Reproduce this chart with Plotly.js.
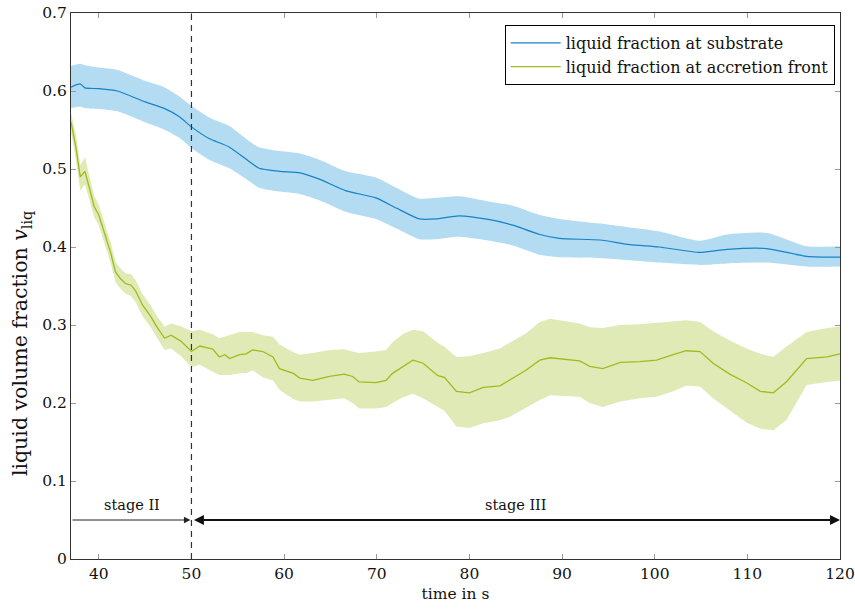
<!DOCTYPE html>
<html>
<head>
<meta charset="utf-8">
<script src="https://cdn.plot.ly/plotly-3.0.1.min.js"></script>
<style>html,body{margin:0;padding:0;background:#fff;}#chart{width:855px;height:609px;}</style>
</head>
<body>
<div id="chart"></div>
<script>
// ---- substrate (blue) ----
const subX = [37, 38, 38.5, 40, 42, 45, 47, 48.7, 50, 51.9, 54.1, 56.3, 57.3, 59.5, 61.7, 63.8, 66.7, 69.9, 72.1, 74.6, 76.4, 78.9, 82.2, 84.7, 87.6, 89.7, 94.1, 97.3, 100.5, 104.9, 107.8, 112.1, 116.4, 120];
const subMean = [0.605, 0.609, 0.604, 0.603, 0.600, 0.586, 0.578, 0.567, 0.554, 0.539, 0.528, 0.509, 0.501, 0.497, 0.495, 0.487, 0.472, 0.463, 0.450, 0.436, 0.436, 0.440, 0.435, 0.428, 0.416, 0.411, 0.409, 0.403, 0.400, 0.393, 0.397, 0.398, 0.388, 0.387];
const subLow = [0.578, 0.580, 0.578, 0.577, 0.574, 0.560, 0.551, 0.540, 0.527, 0.512, 0.501, 0.484, 0.476, 0.471, 0.468, 0.460, 0.445, 0.436, 0.424, 0.410, 0.410, 0.413, 0.408, 0.402, 0.390, 0.387, 0.386, 0.383, 0.380, 0.377, 0.379, 0.380, 0.375, 0.375];
const subHigh = [0.632, 0.635, 0.633, 0.630, 0.627, 0.613, 0.605, 0.593, 0.581, 0.566, 0.555, 0.535, 0.528, 0.523, 0.520, 0.512, 0.497, 0.489, 0.476, 0.462, 0.463, 0.465, 0.458, 0.453, 0.441, 0.436, 0.430, 0.425, 0.420, 0.408, 0.416, 0.418, 0.401, 0.401];

// ---- accretion front (green) ----
const frontX = [37.0, 37.5, 38.0, 38.5, 39.0, 39.5, 40.0, 40.6, 41.3, 41.8, 42.3, 42.9, 43.5, 44.0, 44.7, 45.6, 46.3, 47.1, 47.8, 48.9, 50.0, 50.9, 52.3, 53.0, 53.6, 54.1, 55.2, 55.9, 56.6, 57.7, 58.8, 59.5, 61.0, 61.7, 63.1, 64.9, 66.5, 67.4, 68.1, 69.9, 71.0, 71.7, 72.8, 73.9, 75.0, 76.6, 77.3, 78.6, 80.0, 81.5, 83.3, 84.3, 86.1, 87.6, 88.7, 91.9, 93.0, 94.4, 96.3, 98.4, 100.2, 102.0, 103.4, 104.9, 106.3, 108.1, 109.9, 111.4, 112.8, 114.2, 116.4, 118.6, 120.0];
const frontMean = [0.560, 0.530, 0.490, 0.497, 0.475, 0.452, 0.441, 0.418, 0.392, 0.368, 0.360, 0.353, 0.351, 0.343, 0.326, 0.311, 0.297, 0.283, 0.287, 0.279, 0.266, 0.273, 0.269, 0.259, 0.262, 0.257, 0.262, 0.263, 0.268, 0.266, 0.259, 0.244, 0.238, 0.232, 0.229, 0.234, 0.237, 0.234, 0.227, 0.226, 0.229, 0.238, 0.247, 0.255, 0.251, 0.235, 0.233, 0.215, 0.213, 0.220, 0.222, 0.229, 0.242, 0.255, 0.258, 0.254, 0.247, 0.244, 0.252, 0.253, 0.255, 0.262, 0.267, 0.266, 0.251, 0.237, 0.226, 0.215, 0.213, 0.227, 0.257, 0.259, 0.263];
const frontLow = [0.547, 0.514, 0.472, 0.480, 0.460, 0.438, 0.428, 0.405, 0.379, 0.355, 0.347, 0.340, 0.337, 0.329, 0.312, 0.297, 0.283, 0.268, 0.270, 0.260, 0.246, 0.249, 0.240, 0.236, 0.236, 0.236, 0.238, 0.238, 0.242, 0.233, 0.229, 0.217, 0.205, 0.202, 0.202, 0.204, 0.206, 0.200, 0.193, 0.193, 0.195, 0.200, 0.207, 0.212, 0.206, 0.195, 0.190, 0.170, 0.168, 0.174, 0.178, 0.182, 0.194, 0.204, 0.210, 0.208, 0.200, 0.195, 0.202, 0.206, 0.208, 0.215, 0.222, 0.221, 0.206, 0.190, 0.175, 0.167, 0.165, 0.178, 0.223, 0.227, 0.229];
const frontHigh = [0.572, 0.546, 0.505, 0.515, 0.490, 0.466, 0.454, 0.431, 0.405, 0.381, 0.373, 0.366, 0.365, 0.357, 0.340, 0.325, 0.311, 0.298, 0.302, 0.298, 0.292, 0.294, 0.288, 0.283, 0.285, 0.287, 0.291, 0.291, 0.291, 0.287, 0.285, 0.275, 0.265, 0.262, 0.264, 0.268, 0.269, 0.266, 0.264, 0.266, 0.268, 0.278, 0.288, 0.294, 0.292, 0.277, 0.272, 0.259, 0.260, 0.264, 0.270, 0.277, 0.289, 0.304, 0.308, 0.302, 0.297, 0.296, 0.300, 0.301, 0.303, 0.305, 0.306, 0.304, 0.292, 0.280, 0.270, 0.263, 0.259, 0.272, 0.291, 0.296, 0.298];

const seriesNames = ['liquid fraction at substrate', 'liquid fraction at accretion front'];
const xTicks = [40, 50, 60, 70, 80, 90, 100, 110, 120];
const yTicks = [0, 0.1, 0.2, 0.3, 0.4, 0.5, 0.6, 0.7];
const yTickText = ['0', '0.1', '0.2', '0.3', '0.4', '0.5', '0.6', '0.7'];
const xTitle = 'time in s';
const yTitle = 'liquid volume fraction <i>v</i><sub>liq</sub>';
const stageBoundary = 50;
const stageArrowY = 0.05;
const stageLabelY = 0.069;
const stageIILabel = 'stage II';
const stageIIILabel = 'stage III';

const FONT = 'DejaVu Serif, Liberation Serif, serif';
const blueLine = '#1683c9', blueBand = '#b3dbf1';
const greenLine = '#9dbd1c', greenBand = '#dfeab6';

const traces = [
  {x: subX, y: subLow, mode: 'lines', line: {width: 0, color: blueBand, shape: 'spline', smoothing: 0.6}, showlegend: false, hoverinfo: 'skip'},
  {x: subX, y: subHigh, mode: 'lines', fill: 'tonexty', fillcolor: blueBand, line: {width: 0, color: blueBand, shape: 'spline', smoothing: 0.6}, showlegend: false, hoverinfo: 'skip'},
  {x: frontX, y: frontLow, mode: 'lines', line: {width: 0, color: greenBand}, showlegend: false, hoverinfo: 'skip'},
  {x: frontX, y: frontHigh, mode: 'lines', fill: 'tonexty', fillcolor: greenBand, line: {width: 0, color: greenBand}, showlegend: false, hoverinfo: 'skip'},
  {x: subX, y: subMean, mode: 'lines', name: seriesNames[0], line: {width: 1.2, color: blueLine, shape: 'spline', smoothing: 0.6}},
  {x: frontX, y: frontMean, mode: 'lines', name: seriesNames[1], line: {width: 1.3, color: greenLine}}
];

const layout = {
  width: 855, height: 609,
  margin: {l: 71, r: 15, t: 13, b: 50},
  paper_bgcolor: '#fff', plot_bgcolor: '#fff',
  font: {family: FONT, size: 15, color: '#111'},
  showlegend: true,
  legend: {x: 0.564, y: 0.978, xanchor: 'left', yanchor: 'top', bgcolor: '#fff', bordercolor: '#000', borderwidth: 1, traceorder: 'normal', font: {family: FONT, size: 16, color: '#111'}, tracegroupgap: 0, itemwidth: 50},
  xaxis: {
    range: [37, 120], tickvals: xTicks, ticks: 'inside', ticklen: 5, tickcolor: '#999',
    showline: true, linecolor: '#333', linewidth: 1, mirror: 'ticks', showgrid: false, zeroline: false,
    tickfont: {family: FONT, size: 15.5, color: '#111'},
    title: {text: xTitle, font: {family: FONT, size: 15.5, color: '#111'}, standoff: 6}
  },
  yaxis: {
    range: [0, 0.7], tickvals: yTicks, ticktext: yTickText, ticks: 'inside', ticklen: 5, tickcolor: '#999',
    showline: true, linecolor: '#333', linewidth: 1, mirror: 'ticks', showgrid: false, zeroline: false,
    tickfont: {family: FONT, size: 15.5, color: '#111'}
  },
  shapes: [
    {type: 'line', xref: 'x', yref: 'y', x0: stageBoundary, x1: stageBoundary, y0: 0, y1: 0.7, line: {color: '#333', width: 1.2, dash: '6px,5px'}}
  ],
  annotations: [
    {x: -0.064, y: 0.395, xref: 'paper', yref: 'paper', xanchor: 'center', yanchor: 'middle', textangle: -90, text: yTitle, showarrow: false, font: {family: FONT, size: 20.5, color: '#111'}},
    {x: stageBoundary, y: stageArrowY, ax: 37, ay: stageArrowY, xref: 'x', yref: 'y', axref: 'x', ayref: 'y', text: '', showarrow: true, arrowhead: 2, arrowsize: 1.3, arrowwidth: 1, arrowcolor: '#222', standoff: 1},
    {x: 120, y: stageArrowY, ax: stageBoundary, ay: stageArrowY, xref: 'x', yref: 'y', axref: 'x', ayref: 'y', text: '', showarrow: true, arrowhead: 2, startarrowhead: 2, arrowside: 'end+start', arrowsize: 1, startarrowsize: 1, arrowwidth: 2, arrowcolor: '#111', standoff: 0, startstandoff: 1},
    {x: 43.6, y: stageLabelY, xref: 'x', yref: 'y', text: stageIILabel, showarrow: false, font: {family: FONT, size: 14.5, color: '#111'}},
    {x: 85, y: stageLabelY, xref: 'x', yref: 'y', text: stageIIILabel, showarrow: false, font: {family: FONT, size: 14.5, color: '#111'}}
  ]
};

Plotly.newPlot('chart', traces, layout, {displayModeBar: false, staticPlot: true});
</script>
</body>
</html>
